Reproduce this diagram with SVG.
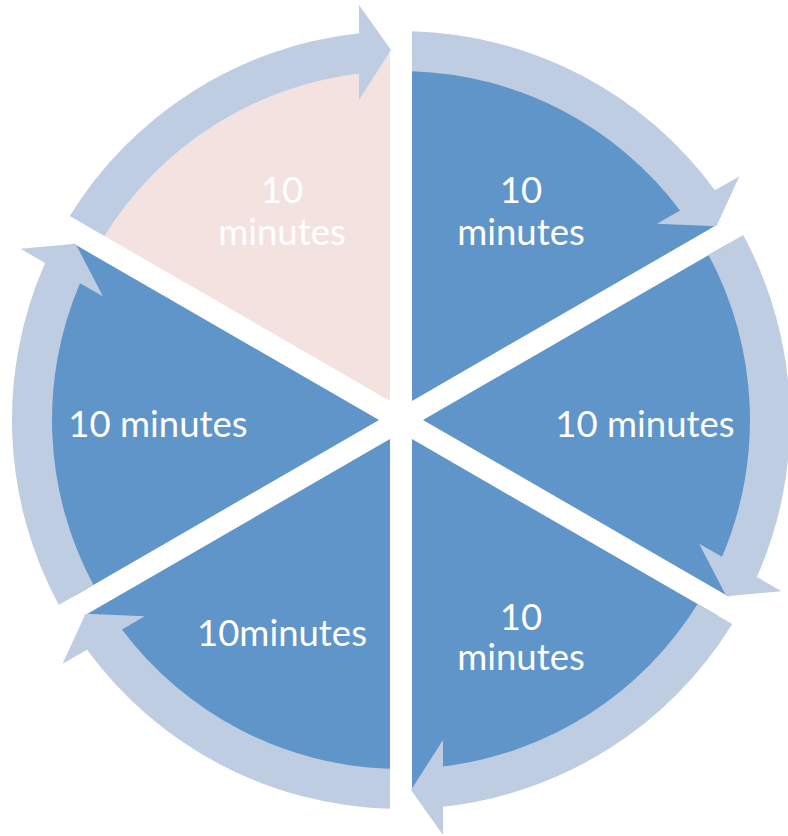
<svg xmlns="http://www.w3.org/2000/svg" width="788" height="836" viewBox="0 0 788 836">
<style>
.sec{fill:#5F95C8;}
.pink{fill:#F4E2E1;}
.arr{fill:#BFCDE3;}
.lbl{font-family:Lato,"Liberation Sans",sans-serif;font-size:36.5px;fill:#FFFFFF;text-anchor:middle;}
</style>
<defs>
<path id="sector" d="M 390 400.95 L 84.48 224.55 A 372 372 0 0 1 390 48.16 Z"/>
<path id="arrow" d="M 69.75 216.05 A 389 389 0 0 1 359 33.27 L 359 5 L 391 50 L 359 100 L 359 73.54 A 349 349 0 0 0 104.41 236.06 Z"/>
</defs>
<rect width="788" height="836" fill="#FFFFFF"/>
<g id="node-top-left">
<use href="#sector" class="pink"/>
<text class="lbl" x="282" y="203">10</text>
<text class="lbl" x="282" y="245">minutes</text>
</g>
<g id="node-top-right">
<use href="#sector" class="sec" transform="rotate(60 401 420)"/>
<text class="lbl" x="521" y="203">10</text>
<text class="lbl" x="521" y="245">minutes</text>
</g>
<g id="node-right">
<use href="#sector" class="sec" transform="rotate(120 401 420)"/>
<text class="lbl" x="645" y="437">10 minutes</text>
</g>
<g id="node-bottom-right">
<use href="#sector" class="sec" transform="rotate(180 401 420)"/>
<text class="lbl" x="521" y="630">10</text>
<text class="lbl" x="521" y="670">minutes</text>
</g>
<g id="node-bottom-left">
<use href="#sector" class="sec" transform="rotate(240 401 420)"/>
<text class="lbl" x="282" y="646">10minutes</text>
</g>
<g id="node-left">
<use href="#sector" class="sec" transform="rotate(300 401 420)"/>
<text class="lbl" x="158" y="437">10 minutes</text>
</g>
<g id="connectors">
<use href="#arrow" class="arr"/>
<use href="#arrow" class="arr" transform="rotate(60 401 420)"/>
<use href="#arrow" class="arr" transform="rotate(120 401 420)"/>
<use href="#arrow" class="arr" transform="rotate(180 401 420)"/>
<use href="#arrow" class="arr" transform="rotate(240 401 420)"/>
<use href="#arrow" class="arr" transform="rotate(300 401 420)"/>
</g>
</svg>
